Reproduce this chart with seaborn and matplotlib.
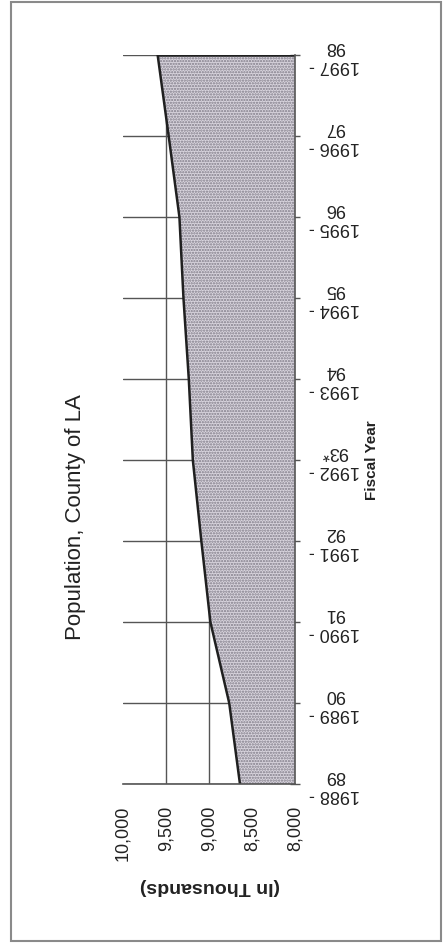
import numpy as np
import pandas as pd
import matplotlib
matplotlib.use("Agg")
import matplotlib.pyplot as plt
import seaborn as sns
from matplotlib.patches import Rectangle
from matplotlib.ticker import FuncFormatter

# ---- data ----
fiscal_years = ["1988 -\n89", "1989 -\n90", "1990 -\n91", "1991 -\n92", "1992 -\n93*",
                "1993 -\n94", "1994 -\n95", "1995 -\n96", "1996 -\n97", "1997 -\n98"]
population = [8640, 8765, 8984, 9089, 9188, 9235, 9297, 9344, 9469, 9597]
value_ticks = [10000, 9500, 9000, 8500, 8000]

title = "Population, County of LA"
value_label = "(In Thousands)"
category_label = "Fiscal Year"

sns.set_theme(style="white")
plt.rcParams['font.family'] = ['Liberation Sans', 'DejaVu Sans']
plt.rcParams['hatch.linewidth'] = 1.1

df = pd.DataFrame({"year": fiscal_years, "pop": population, "pos": np.arange(len(fiscal_years))})

W, H = 443, 945
fig = plt.figure(figsize=(W / 100, H / 100), dpi=100)
fig.patch.set_facecolor("white")

ax = fig.add_axes([123 / W, 1 - 785 / H, 172 / W, 729 / H])
ax.set_facecolor("white")

# gridlines
ax.set_xlim(10000, 8000)
ax.set_ylim(0, len(fiscal_years) - 1)
ax.set_xticks(value_ticks)
ax.set_yticks(df["pos"])
ax.grid(True, axis="both", color="#555555", linewidth=1.0, zorder=0)
ax.set_axisbelow(True)

# area
ax.fill_betweenx(df["pos"], df["pop"], value_ticks[-1], facecolor="#d9d5de",
                 hatch="......", edgecolor="#7f7b87", linewidth=0, zorder=2)
sns.lineplot(data=df, x="pop", y="pos", orient="y", sort=False, ax=ax,
             color="#202020", linewidth=1.8, zorder=3)
ax.hlines(df["pos"].iloc[-1], df["pop"].iloc[-1], value_ticks[-1], color="#202020",
          linewidth=1.8, zorder=3)

# spines
for s in ["left", "top"]:
    ax.spines[s].set_visible(False)
for s in ["right", "bottom"]:
    ax.spines[s].set_color("#555555")
    ax.spines[s].set_linewidth(1.2)
    ax.spines[s].set_zorder(4)

ax.get_xgridlines()[0].set_visible(False)

ax.yaxis.tick_right()
ax.tick_params(axis="y", direction="inout", length=6.5, width=1, color="#555555",
               pad=7, labelsize=13, labelcolor="#222222")
ax.tick_params(axis="x", direction="inout", length=6, width=1, color="#555555",
               pad=12, labelsize=13, labelcolor="#222222")
ax.set_yticklabels(fiscal_years, rotation=180, multialignment="center", va="center")
ax.xaxis.set_major_formatter(FuncFormatter(lambda v, p: f"{int(v):,}"))
for lab in ax.get_xticklabels():
    lab.set_rotation(90)
    lab.set_va("top")
    lab.set_ha("center")
ax.set_xlabel("")
ax.set_ylabel("")

# texts
fig.text(75 / W, 1 - 517 / H, title, rotation=90, ha="center", va="center",
         fontsize=16, color="#222222")
fig.text(210 / W, 1 - 887 / H, value_label, rotation=180, ha="center", va="center",
         fontsize=14, fontweight="bold", color="#222222")
fig.text(372 / W, 1 - 460 / H, category_label, rotation=90, ha="center", va="center",
         fontsize=11, fontweight="bold", color="#222222")

# frame
fig.patches.append(Rectangle((11 / W, 3 / H), 430 / W, 939 / H, transform=fig.transFigure,
                             fill=False, edgecolor="#8a8a8a", linewidth=1.5))

fig.savefig("out.png", dpi=100)
